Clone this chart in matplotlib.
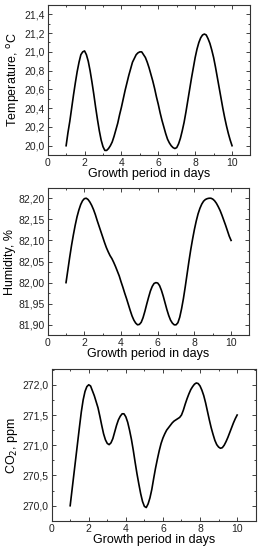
import matplotlib
matplotlib.use('Agg')
import matplotlib.pyplot as plt
from matplotlib.ticker import MultipleLocator, FuncFormatter

plt.rcParams['font.family'] = ['Liberation Sans', 'DejaVu Sans']

# values, every 0.1 day from day 1 to day 10
days = [1.0, 1.1, 1.2, 1.3, 1.4, 1.5, 1.6, 1.7, 1.8, 1.9,
        2.0, 2.1, 2.2, 2.3, 2.4, 2.5, 2.6, 2.7, 2.8, 2.9,
        3.0, 3.1, 3.2, 3.3, 3.4, 3.5, 3.6, 3.7, 3.8, 3.9,
        4.0, 4.1, 4.2, 4.3, 4.4, 4.5, 4.6, 4.7, 4.8, 4.9,
        5.0, 5.1, 5.2, 5.3, 5.4, 5.5, 5.6, 5.7, 5.8, 5.9,
        6.0, 6.1, 6.2, 6.3, 6.4, 6.5, 6.6, 6.7, 6.8, 6.9,
        7.0, 7.1, 7.2, 7.3, 7.4, 7.5, 7.6, 7.7, 7.8, 7.9,
        8.0, 8.1, 8.2, 8.3, 8.4, 8.5, 8.6, 8.7, 8.8, 8.9,
        9.0, 9.1, 9.2, 9.3, 9.4, 9.5, 9.6, 9.7, 9.8, 9.9,
        10.0]

temp = [20.00, 20.14, 20.26, 20.40, 20.54, 20.67, 20.79, 20.89, 20.97, 21.00,
        21.01, 20.97, 20.90, 20.80, 20.68, 20.55, 20.41, 20.28, 20.16, 20.06,
        19.99, 19.95, 19.95, 19.97, 20.00, 20.04, 20.10, 20.17, 20.24, 20.33,
        20.41, 20.50, 20.59, 20.67, 20.75, 20.82, 20.89, 20.93, 20.97, 20.99,
        21.00, 21.00, 20.97, 20.94, 20.89, 20.83, 20.76, 20.69, 20.61, 20.52,
        20.44, 20.35, 20.27, 20.20, 20.13, 20.07, 20.03, 20.00, 19.98, 19.97,
        19.98, 20.02, 20.08, 20.16, 20.25, 20.36, 20.48, 20.60, 20.72, 20.83,
        20.94, 21.03, 21.10, 21.15, 21.18, 21.19, 21.18, 21.14, 21.09, 21.02,
        20.94, 20.84, 20.73, 20.62, 20.51, 20.40, 20.30, 20.21, 20.13, 20.06,
        20.00]

hum = [82.000, 82.030, 82.060, 82.088, 82.113, 82.136, 82.156, 82.172, 82.185, 82.194,
       82.199, 82.200, 82.197, 82.191, 82.183, 82.173, 82.161, 82.147, 82.134, 82.121,
       82.108, 82.095, 82.083, 82.073, 82.064, 82.057, 82.048, 82.038, 82.027, 82.016,
       82.002, 81.989, 81.975, 81.962, 81.948, 81.934, 81.921, 81.911, 81.904, 81.900,
       81.901, 81.906, 81.917, 81.932, 81.949, 81.965, 81.980, 81.991, 81.998, 82.000,
       81.999, 81.993, 81.982, 81.968, 81.952, 81.936, 81.922, 81.911, 81.904, 81.900,
       81.900, 81.905, 81.918, 81.938, 81.962, 81.990, 82.020, 82.050, 82.078, 82.103,
       82.126, 82.146, 82.163, 82.176, 82.186, 82.193, 82.197, 82.199, 82.200, 82.200,
       82.198, 82.194, 82.188, 82.180, 82.171, 82.160, 82.148, 82.136, 82.123, 82.110,
       82.100]

co2 = [270.00, 270.26, 270.52, 270.78, 271.04, 271.30, 271.55, 271.75, 271.89, 271.97,
       272.00, 271.98, 271.90, 271.82, 271.72, 271.62, 271.48, 271.33, 271.19, 271.09,
       271.03, 271.01, 271.04, 271.11, 271.22, 271.33, 271.42, 271.48, 271.52, 271.52,
       271.47, 271.38, 271.25, 271.10, 270.92, 270.72, 270.53, 270.36, 270.20, 270.07,
       269.99, 269.97, 270.03, 270.13, 270.27, 270.45, 270.62, 270.77, 270.91, 271.03,
       271.12, 271.19, 271.25, 271.29, 271.33, 271.37, 271.40, 271.42, 271.44, 271.46,
       271.50, 271.58, 271.68, 271.77, 271.85, 271.92, 271.97, 272.01, 272.03, 272.02,
       271.98, 271.91, 271.82, 271.70, 271.56, 271.42, 271.29, 271.18, 271.08, 271.01,
       270.97, 270.95, 270.96, 271.00, 271.06, 271.13, 271.21, 271.29, 271.37, 271.44,
       271.50]

fig = plt.figure(figsize=(2.62, 5.5), dpi=100)

panels = [
    ([0.182, 0.718, 0.774, 0.273], temp, 'Temperature, $^{\\mathrm{o}}$C',
     (19.9, 21.5), 0.2, 0.1, 1),
    ([0.182, 0.391, 0.770, 0.267], hum, 'Humidity, %',
     (81.876, 82.224), 0.05, 0.025, 2),
    ([0.197, 0.053, 0.779, 0.276], co2, 'CO$_2$, ppm',
     (269.75, 272.26), 0.5, 0.25, 1),
]

for rect, y, ylabel, ylim, major, minor, dec in panels:
    ax = fig.add_axes(rect)
    ax.plot(days, y, color='black', lw=1.2, solid_joinstyle='round')
    ax.set_xlim(0, 11)
    ax.set_ylim(*ylim)
    ax.xaxis.set_major_locator(MultipleLocator(2))
    ax.xaxis.set_minor_locator(MultipleLocator(1))
    ax.yaxis.set_major_locator(MultipleLocator(major))
    ax.yaxis.set_minor_locator(MultipleLocator(minor))
    ax.yaxis.set_major_formatter(FuncFormatter(
        lambda v, p, d=dec: f'{v:.{d}f}'.replace('.', ',')))
    ax.tick_params(which='both', direction='in', top=True, right=True,
                   labelsize=7.5, pad=2, width=0.6, colors='#222222')
    ax.tick_params(which='major', length=3)
    ax.tick_params(which='minor', length=1.6)
    for s in ax.spines.values():
        s.set_linewidth(0.8)
        s.set_color('#333333')
    ax.set_xlabel('Growth period in days', fontsize=9, labelpad=0)
    ax.set_ylabel(ylabel, fontsize=9, labelpad=2)

fig.savefig('out.png', dpi=100)
